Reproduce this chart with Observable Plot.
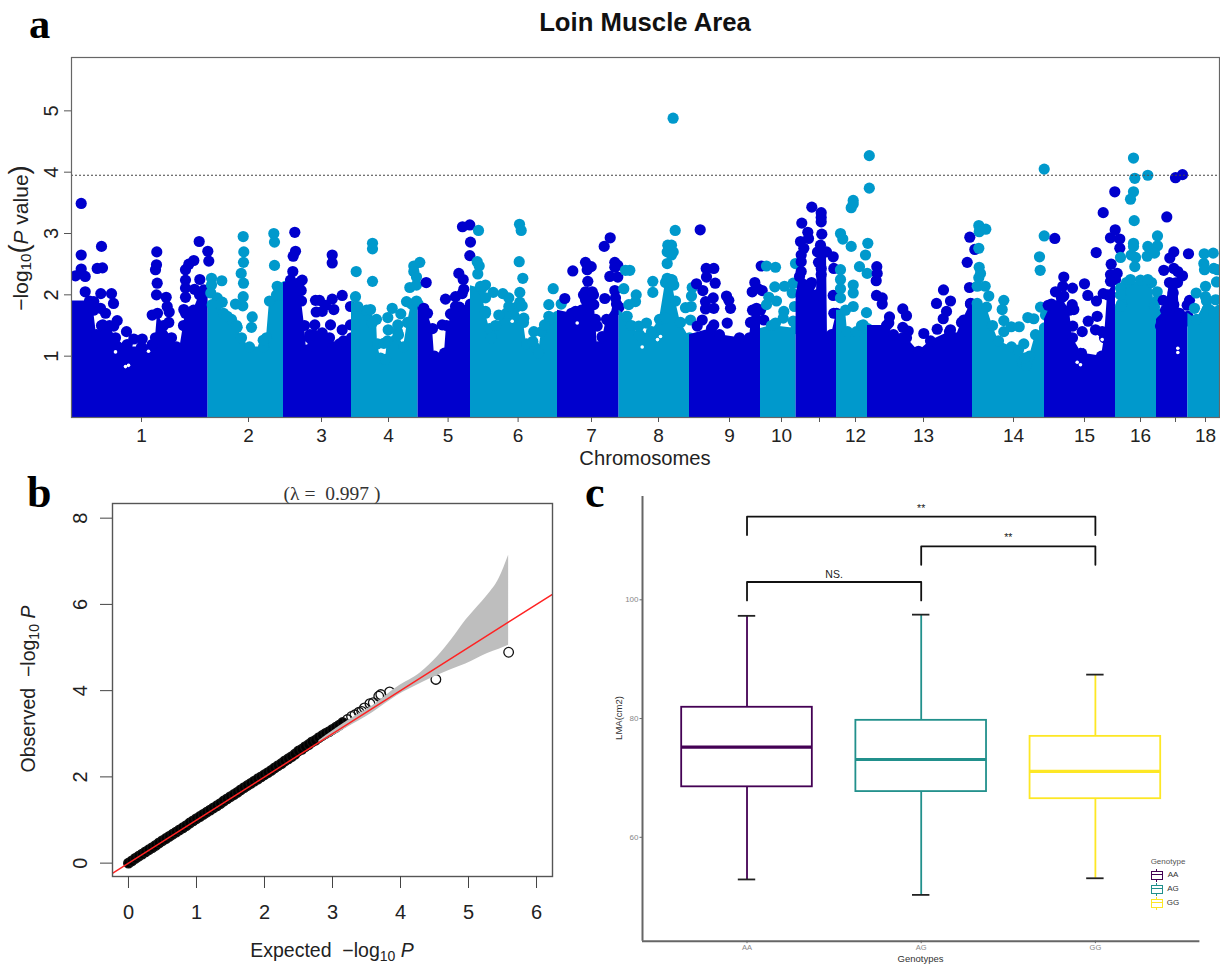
<!DOCTYPE html>
<html><head><meta charset="utf-8">
<script src="https://cdn.jsdelivr.net/npm/d3@7"></script>
<script src="https://cdn.jsdelivr.net/npm/@observablehq/plot@0.6"></script>
<style>
html,body{margin:0;padding:0;background:#fff}
#fig{position:relative;width:1220px;height:964px;overflow:hidden;font-family:"Liberation Sans",Arial,sans-serif}
#fig svg{position:absolute;overflow:visible;background:transparent}
.t{position:absolute;white-space:nowrap;line-height:1}
.letter{font-family:"Liberation Serif",serif;font-weight:bold;color:#000;line-height:.8}
.rot{transform:translate(-50%,-50%) rotate(-90deg)}
.ctr{transform:translate(-50%,-50%)}
sub{font-size:.72em;vertical-align:-0.25em;line-height:0}
</style></head><body><div id="fig"></div>
<script>
// ---------- Panel a: Manhattan plot (position = relative genome position)
const chrTicks=[70,177,250,317,376.6,446.6,520,587,658,710,748,784,852,942,1013,1069,1104,1134];
const chrLabels=["1","2","3","4","5","6","7","8","9","10","","12","13","14","15","16","","18"];
const yTicksA=[1,2,3,4,5];
const threshold=3.95;
const darkBlue="#0000cd", teal="#0099cc";
// upper edge of the solid mass of SNPs per chromosome [position, -log10 P]
const env1=[[0,1.9],[18,1.9],[22,1.75],[25,1.35],[30,1.5],[38,1.5],[44,1.3],[55,1.15],[70,1.15],[80,1.15],[84,1.3],[86,1.7],[92,1.5],[100,1.3],[105,1.15],[108,1.1],[112,1.5],[114,1.7],[122,1.75],[128,2.0],[136.6,2.05]];
const env2=[[136.6,1.9],[147,1.85],[152,1.7],[160,1.6],[165,1.5],[170,1.3],[178,1.15],[192,1.15],[195,1.3],[198,1.9],[205,2.0],[212,2.0]];
const env3=[[212,2.2],[228,2.2],[230,1.9],[233,1.5],[235,1.1],[238,1.3],[242,1.35],[258,1.3],[262,1.15],[268,1.2],[272,1.25],[280,1.3]];
const env4=[[280,1.9],[295,1.75],[305,1.6],[306,1.2],[309,0.97],[314,0.95],[316,1.25],[326,1.4],[332,1.15],[336,1.55],[340,1.85],[346.6,1.85]];
const env5=[[346.6,1.8],[356,1.7],[361,1.45],[363,1.0],[373,1.05],[375,1.5],[382,1.65],[388,1.8],[399,1.85]];
const env6=[[399,2.15],[410,2.1],[414,1.7],[418,1.45],[420,1.3],[424,1.5],[435,1.7],[445,1.8],[452,1.55],[455,1.2],[463,1.15],[467,1.05],[470,1.4],[478,1.6],[486,1.65]];
const env7=[[486,1.75],[500,1.7],[510,1.75],[512,2.0],[522,2.0],[524,1.6],[526,1.15],[531,1.3],[535,1.6],[545,1.85],[547.6,1.8]];
const env8=[[547.6,1.75],[555,1.65],[560,1.5],[568,1.35],[580,1.4],[588,1.6],[594,2.2],[600,2.25],[604,1.9],[609,1.55],[618,1.3]];
const env9=[[618,1.35],[640,1.45],[648,1.35],[668,1.3],[678,1.3],[681,1.75],[689,1.75]];
const env10=[[689,1.45],[700,1.5],[724.6,1.45]];
const env11=[[724.6,2.0],[728,2.3],[740,2.2],[745,2.0],[746,2.7],[755,2.7],[756,1.3],[760,1.35],[765,1.7]];
const env12=[[765,1.75],[774,1.75],[776,1.4],[785,1.4],[790,1.5],[796,1.45]];
const env13=[[796,1.5],[815,1.5],[822,1.35],[835,1.3],[847,1.08],[859,1.25],[878,1.4],[884,1.3],[890,1.55],[899,1.85],[901,1.85]];
const env14=[[901,1.9],[915,1.8],[921,1.5],[927,1.25],[940,1.15],[947,1.1],[951,0.9],[955,0.85],[958,1.0],[964,1.35],[973,1.4]];
const env15=[[973,1.6],[980,1.85],[990,1.95],[998,1.75],[1001,1.3],[1010,1.05],[1030,1.0],[1033,1.3],[1036,2.0],[1044,2.25]];
const env16=[[1044,1.8],[1050,1.85],[1055,2.2],[1080,2.2],[1083,1.8],[1085,1.7]];
const env17=[[1085,1.6],[1094,1.75],[1098,2.2],[1106,2.2],[1108,1.7],[1116.4,1.65]];
const env18=[[1116.4,1.7],[1125,1.6],[1135,1.9],[1148,1.75]];
// individual SNPs standing above the mass
const snp1=[[9.7,3.49],[30,2.79],[9.7,2.65],[9.7,2.42],[4,2.31],[13.7,2.3],[25.7,2.43],[31,2.44],[13.7,2.05],[29.3,2.02],[40,2.02],[42,1.86],[22.3,1.89],[29,1.78],[34,1.7],[45.7,1.58],[31.3,1.51],[42.3,1.49],[55,1.4],[62.3,1.28],[70.7,1.28],[55.7,1.19],[80.7,1.19],[85.3,2.7],[85,2.49],[84,2.41],[85.7,2.19],[85,2.0],[94.7,1.96],[95.7,1.81],[97.7,1.72],[80.7,1.67],[97.3,1.55],[127.7,2.87],[136.3,2.71],[137.3,2.55],[122.3,2.56],[117.3,2.5],[114,2.41],[114,2.24],[114,2.11],[114,1.96],[112.3,1.76],[128.3,2.25],[123,2.09],[132.3,2.08]];
const snp2=[[171.7,2.95],[172.3,2.7],[172,2.53],[169.7,2.35],[172,2.19],[171.7,1.97],[171.3,1.82],[164,1.85],[140,2.27],[140,2.16],[150.3,2.23],[139.3,2.03],[145.7,1.95],[150.7,1.88],[140.7,1.84],[180.7,1.64],[180,1.47],[165.7,1.47],[155.7,1.65],[191.7,1.26],[202.3,3.0],[203,2.86],[203,2.48],[205.7,2.14],[214,2.14],[209,2.0]];
const snp3=[[223.3,3.02],[224,2.71],[221.7,2.63],[221.3,2.38],[219,2.24],[230.7,2.24],[229.7,2.07],[244,1.91],[248,1.91],[260.7,2.65],[260.7,2.52],[270.7,1.99],[260.7,1.93],[254,1.83],[262.3,1.76],[244.7,1.72],[250.7,1.73],[243.3,1.51],[259,1.51],[270.7,1.43],[238.3,1.35],[250.7,1.38],[279,1.81],[279,1.51]];
const snp4=[[284.7,2.38],[301,2.84],[301,2.75],[301,2.22],[284,1.97],[286.3,1.81],[299,1.76],[300.7,1.54],[320.7,1.78],[316.3,1.63],[329.3,1.69],[326.3,1.51],[316.7,1.43],[312.3,1.21],[327,1.35],[348.3,2.53],[342.3,2.47],[342.3,2.38],[345,2.29],[345,2.16],[338.3,2.12],[335,1.89],[345,1.9]];
const snp5=[[354.7,2.2],[352.3,1.78],[374,1.93],[384,1.97],[392.3,2.09],[387.3,2.35],[391.7,2.25],[391,3.11],[398.3,3.14],[399,2.86],[398.3,2.64],[390.7,2.02],[384,1.81],[379,1.69],[370.7,1.51],[392.3,1.7]];
const snp6=[[407,3.05],[448,3.15],[449.7,3.05],[447.7,2.54],[451.3,2.27],[448.3,2.04],[448.3,1.88],[450.7,1.82],[405.7,2.54],[407.7,2.47],[406.3,2.34],[414,2.16],[409,2.14],[421.7,2.04],[431.3,2.02],[437.3,1.95],[437.3,1.81],[414,1.95],[414,1.73],[427.3,1.67],[452.3,1.62],[462.3,1.4],[461.3,1.24],[473,1.51],[477.3,1.65],[477.3,1.84],[481.7,2.1],[489.7,1.85]];
const snp7=[[493.3,1.94],[514,2.53],[519.7,2.46],[515.7,2.41],[501.3,2.39],[516.3,2.22],[514,2.05],[520.7,2.05],[514,1.92],[522.3,1.84],[504,1.73],[525.7,1.49],[538.7,2.93],[532.7,2.79],[543.3,2.53],[546.3,2.48],[543.3,2.45],[538.3,2.3],[546.3,2.29],[543.3,2.07],[533.3,1.94],[544,1.95],[545.7,1.76],[537.3,1.57],[530.7,1.32]];
const snp8=[[554,2.4],[558.3,2.4],[552.3,2.1],[564.7,2.0],[564,1.89],[557.3,1.84],[555.7,1.65],[581.3,2.22],[581.3,2.04],[596.3,2.81],[595.7,2.7],[595.7,2.51],[595.7,2.27],[594,1.62],[575,1.54],[567.3,1.49],[601.6,4.88],[603.7,3.05],[600,2.81],[601.7,2.7],[600,2.65],[600.7,2.24],[602.3,2.16],[620.7,2.12],[620,1.98],[614,1.79],[619.7,1.81],[619,1.59]];
const snp9=[[628.7,3.06],[642.3,2.43],[634.7,2.43],[635,2.29],[625,2.18],[643.7,2.19],[631.3,2.07],[641.7,1.95],[634,1.89],[634,1.77],[642.3,1.78],[655,1.98],[657.3,1.91],[659,1.78],[655.7,1.54],[630.7,1.59],[642.3,1.51],[625.7,1.49],[689.7,2.47],[683.3,2.2],[685.7,2.11],[690.7,2.07],[680.7,2.05],[685,1.78],[679,1.55],[692.3,1.59]];
const snp10=[[695,2.47],[704,2.45],[703.3,2.13],[713,2.14],[697.3,1.96],[705,1.9],[695,1.84],[712.3,1.73],[711.7,1.62],[721.7,1.57],[724,2.51],[721.7,2.19],[720.7,2.03],[723,1.81],[704,1.54]];
const snp11=[[730.3,3.17],[736.3,3.02],[740.3,3.43],[749.7,3.34],[749.7,3.26],[749.7,3.19],[750.3,2.99],[737,2.92],[729,2.87],[732.3,2.76],[729.7,2.65],[729.7,2.54],[729.7,2.38],[749,2.81],[749,2.7],[747,2.53],[749.7,2.43],[749.7,2.33],[739,2.16],[761.7,2.62],[762.3,2.43],[761.7,1.99],[762.3,1.7]];
const snp12=[[769,3.0],[771.3,2.91],[779.7,2.79],[781.7,3.54],[779.7,3.42],[781.7,3.48],[794,2.65],[796.3,2.84],[788,2.46],[795.7,2.35],[769,2.41],[769,2.25],[769,2.1],[769,1.95],[781.7,2.16],[781.7,2.03],[781.7,1.81],[795,1.71],[791.7,1.51],[797.8,4.27],[797.8,3.74]];
const snp13=[[805.3,2.46],[805.7,2.35],[804.7,2.23],[805,1.99],[810.7,1.95],[810.7,1.85],[818,1.64],[817.3,1.54],[831.3,1.77],[835,1.66],[831.3,1.47],[836.7,1.41],[852.3,1.37],[872,2.08],[879,1.9],[865,1.86],[875,1.73],[871.7,1.61],[865.7,1.44],[879,1.43],[831,1.3],[898.3,2.94],[903.3,2.74],[895.7,2.53],[898,2.12],[899,1.86],[892.3,1.59]];
const snp14=[[907.3,3.13],[907.7,3.03],[914.3,3.07],[907.3,2.76],[907.7,2.45],[909,2.35],[907.3,2.28],[905.7,2.14],[913.7,2.14],[917.3,1.98],[905.7,1.86],[932.3,1.91],[930.7,1.76],[932.3,1.58],[932.3,1.4],[939.7,1.48],[947.7,1.48],[952.3,1.2],[953,0.97],[956.3,1.63],[962.3,1.61],[969,1.8],[974,1.67],[968,2.62],[968.7,2.4],[972.7,2.96],[973,1.46],[972.7,4.05]];
const snp15=[[976.7,1.83],[983.3,2.92],[992.3,2.29],[991.3,2.14],[1001,2.11],[984,2.05],[992.3,1.98],[1013,2.18],[1016.3,1.99],[1024.7,2.69],[1025,1.9],[1031.7,2.02],[1039,2.0],[1031.7,3.34],[1043.3,3.68],[1043.7,3.06],[1039,2.93],[1048.3,2.91],[1048.3,2.76],[1039.7,2.5],[1039,2.33],[1045.7,2.35],[1039,2.22],[978.3,1.83],[1000.7,1.84],[1002.3,1.76],[1025.7,1.65],[1016.7,1.57],[1001.3,1.49],[1010.7,1.4],[1024,1.43],[1030.7,1.4]];
const snp16=[[1062,4.23],[1063.3,3.9],[1076.3,3.95],[1062,3.68],[1059,3.56],[1062.7,3.21],[1062,2.84],[1062,2.79],[1059.7,2.65],[1064,2.61],[1063.3,2.46],[1049,2.61],[1086,2.96],[1076.3,2.79],[1086,2.8],[1075.7,2.63],[1083,2.68],[1059,2.25],[1069,2.24],[1076.3,2.25],[1049,2.11],[1049,2.0],[1085.7,2.05],[1086.3,1.92],[1049,1.81]];
const snp17=[[1104,3.91],[1111,3.96],[1095.3,3.27],[1102.3,2.7],[1117,2.67],[1098.3,2.6],[1092.3,2.4],[1102.3,2.43],[1106.3,2.38],[1111,2.31],[1103.3,2.19],[1101.7,2.03],[1091.7,1.91],[1102.3,1.84],[1118,1.91],[1115.7,1.83],[1089,1.49],[1114,1.57]];
const snp18=[[1132.7,2.67],[1141.7,2.68],[1132.3,2.51],[1133,2.41],[1142.3,2.43],[1145.7,2.41],[1145,2.21],[1134,2.14],[1124.7,2.03],[1134,1.97],[1144,1.92],[1123,1.78],[1135.7,1.76],[1142.3,1.7]];
// small empty pockets inside the mass
const gaps=[[44,1.07],[54,0.83],[57,0.85],[77,1.08],[1005.7,0.9],[1009,0.86],[1106.3,1.13],[1106.3,1.06],[1030.7,1.27],[1010.7,1.16],[440.7,1.57],[505.7,1.54],[570.7,1.15],[589,1.32],[586,1.27]];
const envelopes=[env1,env2,env3,env4,env5,env6,env7,env8,env9,env10,env11,env12,env13,env14,env15,env16,env17,env18];
const snps=[snp1,snp2,snp3,snp4,snp5,snp6,snp7,snp8,snp9,snp10,snp11,snp12,snp13,snp14,snp15,snp16,snp17,snp18];

// ---------- Panel b: QQ plot
const qqExpected=[0,0.05,0.1,0.15,0.2,0.25,0.3,0.35,0.4,0.45,0.5,0.55,0.6,0.65,0.7,0.75,0.8,0.85,0.9,0.95,1,1.05,1.1,1.15,1.2,1.25,1.3,1.35,1.4,1.45,1.5,1.55,1.6,1.65,1.7,1.75,1.8,1.85,1.9,1.95,2,2.05,2.1,2.15,2.2,2.25,2.3,2.35,2.4,2.45,2.5,2.55,2.6,2.65,2.7,2.75,2.8,2.85,2.9,2.95,3,3.05,3.1,3.15,3.22,3.28,3.33,3.39,3.43,3.47,3.55,3.6,3.68,3.71,3.84,4.52,5.59];
const qqObserved=[0,0.05,0.11,0.16,0.21,0.26,0.31,0.36,0.41,0.47,0.52,0.57,0.62,0.67,0.72,0.77,0.82,0.87,0.93,0.98,1.03,1.08,1.13,1.18,1.23,1.28,1.33,1.38,1.44,1.49,1.54,1.59,1.64,1.7,1.75,1.8,1.85,1.9,1.95,2,2.05,2.1,2.15,2.21,2.26,2.31,2.37,2.42,2.47,2.53,2.6,2.64,2.7,2.75,2.81,2.85,2.91,2.96,3.01,3.05,3.1,3.15,3.2,3.26,3.33,3.4,3.44,3.5,3.52,3.6,3.7,3.72,3.87,3.91,3.97,4.26,4.89];
const qqSolidUpTo=3.15;
const ciX=[2.8,3.2,3.6,3.95,4.3,4.54,4.75,4.96,5.12,5.28,5.45,5.59];
const ciUpper=[2.84,3.28,3.66,4.08,4.42,4.78,5.18,5.63,5.92,6.21,6.6,7.14];
const ciLower=[2.78,3.13,3.5,3.88,4.17,4.35,4.49,4.62,4.74,4.86,4.96,5.05];
const refLine=[-0.4,6.4];
const xTicksB=[0,1,2,3,4,5,6], yTicksB=[0,2,4,6,8];

// ---------- Panel c: box plots
const genotypes=["AA","AG","GG"];
const geno=[1,2,3];
const boxColors=["#440154","#21908c","#fde725"];
const whiskerLow=[52.9,50.3,53.1];
const q1=[68.5,67.7,66.5];
const median=[75.2,73.1,71.1];
const q3=[81.9,79.7,77.0];
const whiskerHigh=[97.3,97.5,87.4];
const yTicksC=[60,80,100];
const brackets=[{from:1,to:3,top:114.0,drop:110.9,label:"**",ly:115.4},{from:2,to:3,top:109.0,drop:105.9,label:"**",ly:110.4},{from:1,to:2,top:103.0,drop:99.9,label:"NS.",ly:104.2}];
const BOX=0.375, CAP=0.05;

const fig=document.getElementById("fig");
function place(svg,l,t){svg.style.left=l+"px";svg.style.top=t+"px";fig.appendChild(svg);}
function text(html,css,cls){const d=document.createElement("div");d.className="t "+(cls||"");d.innerHTML=html;d.style.cssText=css;fig.appendChild(d);return d;}

// ---- a
const marksA=[];
const R=5.6;
envelopes.forEach((env,i)=>{
  const fill=i%2===0?darkBlue:teal;
  marksA.push(Plot.areaY(env,{x:d=>d[0],y:d=>d[1],fill,clip:true}));
  marksA.push(Plot.dot(env.slice(1),{x:d=>d[0],y:d=>d[1],r:R,fill,clip:true}));
  marksA.push(Plot.dot(snps[i],{x:d=>d[0],y:d=>d[1],r:R,fill,clip:true}));
});
const plotA=Plot.plot({width:1220,height:470,marginLeft:71,marginRight:1,marginTop:57,marginBottom:53,
  style:{fontFamily:'"Liberation Sans",Arial,sans-serif',color:"#222",background:"transparent"},
  x:{domain:[0,1148]},y:{domain:[0,5.87]},
  marks:[...marksA,
    Plot.dot(gaps,{x:d=>d[0],y:d=>d[1],r:1.8,fill:"#fff"}),
    Plot.ruleY([threshold],{stroke:"#444",strokeWidth:1,strokeDasharray:"2,2"}),
    Plot.frame({stroke:"#666",strokeWidth:1.2}),
    Plot.axisX({ticks:chrTicks,tickFormat:(d,i)=>chrLabels[i],label:null,tickSize:5,tickPadding:6,fontSize:19,stroke:"#555"}),
    Plot.axisY({ticks:yTicksA,tickFormat:"d",label:null,tickSize:7,tickPadding:7,fontSize:20,tickRotate:-90,stroke:"#555"})
  ]});
place(plotA,0,0);

// ---- b
const qq=qqExpected.map((e,i)=>({e,o:qqObserved[i]}));
const ci=ciX.map((x,i)=>({x,u:ciUpper[i],l:ciLower[i]}));
const plotB=Plot.plot({width:570,height:494,marginLeft:112,marginRight:18,marginTop:33,marginBottom:88,
  style:{fontFamily:'"Liberation Sans",Arial,sans-serif',color:"#222",background:"transparent"},
  x:{domain:[-0.235,6.235]},y:{domain:[-0.31,8.34]},
  marks:[
    Plot.dot(qq,{x:"e",y:"o",r:4.8,stroke:"#111",strokeWidth:1.3,fill:d=>d.e<=qqSolidUpTo?"#000":"none",clip:true}),
    Plot.areaY(ci,{x:"x",y1:"l",y2:"u",fill:"#bebebe",curve:"monotone-x"}),
    Plot.line(refLine,{x:d=>d,y:d=>d,stroke:"#f22",strokeWidth:1.5,clip:true}),
    Plot.frame({stroke:"#555",strokeWidth:1.4}),
    Plot.axisX({ticks:xTicksB,tickFormat:"d",label:null,tickSize:12,tickPadding:16,fontSize:20,stroke:"#444"}),
    Plot.axisY({ticks:yTicksB,tickFormat:"d",label:null,tickSize:12,tickPadding:14,fontSize:20,tickRotate:-90,stroke:"#444"})
  ]});
place(plotB,0,470);

// ---- c
const boxes=geno.map((g,i)=>({g,low:whiskerLow[i],q1:q1[i],med:median[i],q3:q3[i],high:whiskerHigh[i],c:boxColors[i]}));
const bracketPts=brackets.map(b=>[[b.from,b.drop],[b.from,b.top],[b.to,b.top],[b.to,b.drop]]);
const plotC=Plot.plot({width:650,height:494,marginLeft:72,marginRight:20.6,marginTop:26,marginBottom:23.3,
  style:{fontFamily:'"Liberation Sans",Arial,sans-serif',color:"#888",background:"transparent"},
  x:{domain:[0.4,3.6]},y:{domain:[42.5,117.4]},
  marks:[
    Plot.ruleX(boxes,{x:"g",y1:"low",y2:"q1",stroke:"c",strokeWidth:1.8}),
    Plot.ruleX(boxes,{x:"g",y1:"q3",y2:"high",stroke:"c",strokeWidth:1.8}),
    Plot.ruleY(boxes,{y:"low",x1:d=>d.g-CAP,x2:d=>d.g+CAP,stroke:"#222",strokeWidth:1.8}),
    Plot.ruleY(boxes,{y:"high",x1:d=>d.g-CAP,x2:d=>d.g+CAP,stroke:"#222",strokeWidth:1.8}),
    Plot.rect(boxes,{x1:d=>d.g-BOX,x2:d=>d.g+BOX,y1:"q1",y2:"q3",stroke:"c",strokeWidth:1.8,fill:"#fff"}),
    Plot.ruleY(boxes,{y:"med",x1:d=>d.g-BOX,x2:d=>d.g+BOX,stroke:"c",strokeWidth:3.2}),
    ...bracketPts.map(p=>Plot.line(p,{x:d=>d[0],y:d=>d[1],stroke:"#111",strokeWidth:1.8})),
    Plot.text(brackets,{x:d=>(d.from+d.to)/2,y:"ly",text:"label",fontSize:10.5,fill:"#222"}),
    Plot.ruleX([0.4],{stroke:"#666",strokeWidth:2}),
    Plot.ruleY([42.5],{stroke:"#666",strokeWidth:2}),
    Plot.axisX({ticks:geno,tickFormat:(d,i)=>genotypes[i],label:null,tickSize:2.5,tickPadding:0.5,fontSize:7.5,stroke:"#666"}),
    Plot.axisY({ticks:yTicksC,label:null,tickSize:2.5,tickPadding:1.5,fontSize:8,stroke:"#666"})
  ]});
place(plotC,570,470);

// ---- text
text("a","left:29px;top:7px;font-size:42.5px","letter");
text("b","left:27px;top:475px;font-size:44px","letter");
text("c","left:585px;top:475px;font-size:44px","letter");
text("Loin Muscle Area","left:645px;top:23px;font-size:25.7px;font-weight:bold;color:#111;","ctr");
text("Chromosomes","left:645px;top:458px;font-size:20.2px;color:#222","ctr");
text('&minus;log<sub>10</sub><span style="font-size:1.3em;line-height:0">(</span><i>P</i> value<span style="font-size:1.3em;line-height:0">)</span>',"left:20px;top:237.5px;font-size:21px;color:#222","rot");
text('(&lambda; =&nbsp; 0.997 )',"left:332px;top:494px;font-size:19.5px;color:#333;font-family:'Liberation Serif',serif","ctr");
text('Expected &nbsp;&minus;log<sub>10</sub> <i>P</i>',"left:332px;top:951px;font-size:19.5px;line-height:.9;color:#222","ctr");
text('Observed &nbsp;&minus;log<sub>10</sub> <i>P</i>',"left:29px;top:689px;font-size:19.5px;color:#222","rot");
text("LMA(cm2)","left:619px;top:718px;font-size:9.5px;color:#333","rot");
text("Genotypes","left:920.5px;top:958.5px;font-size:9.5px;color:#333","ctr");
text("Genotype","left:1168px;top:862px;font-size:8px;color:#555","ctr");
genotypes.forEach((g,i)=>{
  const y=875+14*i, c=boxColors[i];
  text("",`left:1156.2px;top:${y-6.5}px;width:1px;height:13px;background:${c}`);
  text("",`left:1151px;top:${y-4.5}px;width:10px;height:7px;border:1.4px solid ${c};background:linear-gradient(${c},${c}) 0 50%/100% 1.4px no-repeat,#fff`);
  text(g,`left:1173px;top:${y}px;font-size:8px;color:#333`,"ctr");
});
</script></body></html>
